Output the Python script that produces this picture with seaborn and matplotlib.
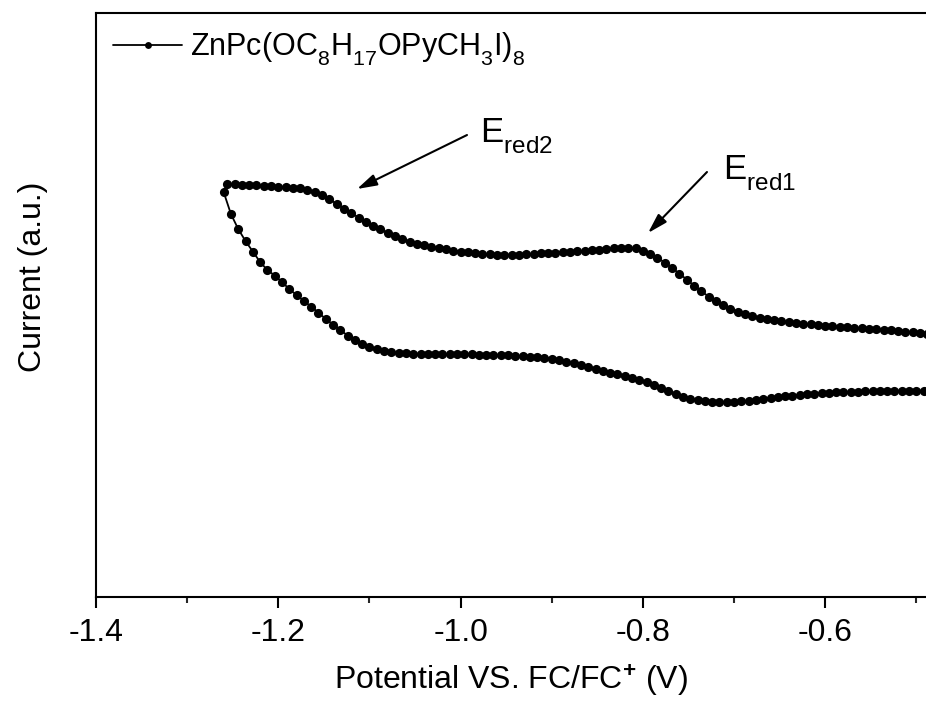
import matplotlib
matplotlib.use("Agg")
import matplotlib.pyplot as plt
from matplotlib import _mathtext
from matplotlib.ticker import MultipleLocator
import pandas as pd
import seaborn as sns

# Cathodic branch (lower trace), potentials in V vs Fc/Fc+
lower_potential = [
    -1.260, -1.252, -1.244, -1.236, -1.228, -1.220, -1.212, -1.204, -1.196, -1.188,
    -1.180, -1.172, -1.164, -1.156, -1.148, -1.140, -1.132, -1.124, -1.116, -1.108,
    -1.100, -1.092, -1.084, -1.076, -1.068, -1.060, -1.052, -1.044, -1.036, -1.028,
    -1.020, -1.012, -1.004, -0.996, -0.988, -0.980, -0.972, -0.964, -0.956, -0.948,
    -0.940, -0.932, -0.924, -0.916, -0.908, -0.900, -0.892, -0.884, -0.876, -0.868,
    -0.860, -0.852, -0.844, -0.836, -0.828, -0.820, -0.812, -0.804, -0.796, -0.788,
    -0.780, -0.772, -0.764, -0.756, -0.748, -0.740, -0.732, -0.724, -0.716, -0.708,
    -0.700, -0.692, -0.684, -0.676, -0.668, -0.660, -0.652, -0.644, -0.636, -0.628,
    -0.620, -0.612, -0.604, -0.596, -0.588, -0.580, -0.572, -0.564, -0.556, -0.548,
    -0.540, -0.532, -0.524, -0.516, -0.508, -0.500, -0.492, -0.484,
]
lower_current = [
    40.50, 38.30, 36.80, 35.60, 34.55, 33.50, 32.70, 32.15, 31.50, 30.80,
    30.20, 29.60, 29.05, 28.45, 27.80, 27.25, 26.70, 26.15, 25.70, 25.30,
    25.00, 24.77, 24.60, 24.48, 24.40, 24.36, 24.34, 24.32, 24.31, 24.30,
    24.30, 24.30, 24.29, 24.28, 24.27, 24.25, 24.23, 24.21, 24.19, 24.16,
    24.12, 24.08, 24.04, 24.00, 23.93, 23.83, 23.70, 23.54, 23.37, 23.18,
    22.98, 22.78, 22.60, 22.44, 22.28, 22.12, 21.95, 21.75, 21.50, 21.20,
    20.90, 20.60, 20.30, 20.05, 19.85, 19.70, 19.60, 19.53, 19.50, 19.50,
    19.53, 19.58, 19.65, 19.74, 19.83, 19.92, 20.00, 20.08, 20.15, 20.22,
    20.28, 20.34, 20.39, 20.43, 20.47, 20.50, 20.53, 20.55, 20.57, 20.59,
    20.60, 20.61, 20.62, 20.63, 20.63, 20.64, 20.64, 20.65,
]

# Return branch (upper trace)
upper_potential = [
    -1.256, -1.248, -1.240, -1.232, -1.224, -1.216, -1.208, -1.200, -1.192, -1.184,
    -1.176, -1.168, -1.160, -1.152, -1.144, -1.136, -1.128, -1.120, -1.112, -1.104,
    -1.096, -1.088, -1.080, -1.072, -1.064, -1.056, -1.048, -1.040, -1.032, -1.024,
    -1.016, -1.008, -1.000, -0.992, -0.984, -0.976, -0.968, -0.960, -0.952, -0.944,
    -0.936, -0.928, -0.920, -0.912, -0.904, -0.896, -0.888, -0.880, -0.872, -0.864,
    -0.856, -0.848, -0.840, -0.832, -0.824, -0.816, -0.808, -0.800, -0.792, -0.784,
    -0.776, -0.768, -0.760, -0.752, -0.744, -0.736, -0.728, -0.720, -0.712, -0.704,
    -0.696, -0.688, -0.680, -0.672, -0.664, -0.656, -0.648, -0.640, -0.632, -0.624,
    -0.616, -0.608, -0.600, -0.592, -0.584, -0.576, -0.568, -0.560, -0.552, -0.544,
    -0.536, -0.528, -0.520, -0.512, -0.504, -0.496, -0.488,
]
upper_current = [
    41.30, 41.27, 41.24, 41.20, 41.16, 41.11, 41.06, 41.01, 40.97, 40.93,
    40.87, 40.70, 40.47, 40.20, 39.80, 39.30, 38.85, 38.40, 37.95, 37.55,
    37.15, 36.80, 36.40, 36.10, 35.80, 35.55, 35.35, 35.17, 35.02, 34.90,
    34.77, 34.65, 34.55, 34.47, 34.40, 34.34, 34.29, 34.25, 34.23, 34.23,
    34.25, 34.28, 34.32, 34.36, 34.40, 34.44, 34.48, 34.52, 34.57, 34.62,
    34.68, 34.75, 34.81, 34.86, 34.90, 34.92, 34.87, 34.65, 34.32, 33.92,
    33.45, 32.90, 32.35, 31.75, 31.15, 30.60, 30.05, 29.60, 29.20, 28.85,
    28.55, 28.30, 28.10, 27.94, 27.81, 27.70, 27.60, 27.50, 27.42, 27.34,
    27.27, 27.20, 27.14, 27.08, 27.03, 26.98, 26.94, 26.90, 26.85, 26.80,
    26.75, 26.69, 26.62, 26.55, 26.48, 26.40, 26.32,
]

x_ticks = [-1.4, -1.2, -1.0, -0.8, -0.6]
x_tick_labels = ["-1.4", "-1.2", "-1.0", "-0.8", "-0.6"]
series_label = r"ZnPc(OC$_8$H$_{17}$OPyCH$_3$I)$_8$"

sns.set_theme(style="ticks")
plt.rcParams["font.family"] = ["Liberation Sans", "DejaVu Sans"]
plt.rcParams["mathtext.fontset"] = "custom"
plt.rcParams["mathtext.rm"] = "Liberation Sans"
plt.rcParams["mathtext.it"] = "Liberation Sans:italic"
plt.rcParams["mathtext.bf"] = "Liberation Sans:bold"
# Chemical-formula style subscripts sit a little lower than the mathtext default
_mathtext.FontConstantsBase.sub1 = 0.6
_mathtext.FontConstantsBase.sub2 = 0.7

# One continuous sweep: cathodic branch right-to-left, then back along the upper branch
sweep = pd.DataFrame({
    "potential": lower_potential[::-1] + upper_potential,
    "current": lower_current[::-1] + upper_current,
    "series": series_label,
})

fig = plt.figure(figsize=(9.26, 7.04), dpi=100)
fig.patch.set_facecolor("white")
ax = fig.add_axes([0.1037, 0.152, 0.8963, 0.8295])
ax.set_facecolor("white")

sns.lineplot(
    data=sweep, x="potential", y="current", hue="series",
    palette=["#000000"], sort=False, estimator=None,
    marker="o", markersize=6.6, markeredgewidth=0,
    linewidth=1.3, ax=ax,
)

ax.set_xlim(-1.4, -0.4894)
ax.set_ylim(0, 58.4)
ax.set_xticks(x_ticks)
ax.set_xticklabels(x_tick_labels)
ax.xaxis.set_minor_locator(MultipleLocator(0.1))
ax.set_yticks([])
ax.tick_params(axis="x", which="major", direction="out", length=8, width=1.5,
               labelsize=23, pad=7, colors="black")
ax.tick_params(axis="x", which="minor", direction="out", length=4.5, width=1.5)

for side in ["left", "bottom", "top"]:
    ax.spines[side].set_linewidth(1.5)
    ax.spines[side].set_color("black")
ax.spines["right"].set_visible(False)

ax.set_xlabel(r"Potential VS. FC/FC$^{\mathbf{+}}$ (V)", fontsize=23, labelpad=11, color="black")
ax.set_ylabel("Current (a.u.)", fontsize=23, color="black")
ax.yaxis.set_label_coords(-0.058, 0.548)

leg = ax.legend(loc="upper left", frameon=False, fontsize=22, handlelength=2.25,
                handletextpad=0.25, borderaxespad=0.17, markerscale=0.75)
for t in leg.get_texts():
    t.set_color("black")

# Reduction peak markers
arrow_style = "-|>,head_length=0.75,head_width=0.22"
ax.text(-0.9787, 45.4, r"E$_{\mathrm{red2}}$", fontsize=25, ha="left", va="baseline", color="black")
ax.annotate("", xy=(-1.1137, 40.8), xytext=(-0.9930, 46.2),
            arrowprops=dict(arrowstyle=arrow_style, color="black", lw=1.5,
                            mutation_scale=16, shrinkA=0, shrinkB=0))
ax.text(-0.7121, 41.7, r"E$_{\mathrm{red1}}$", fontsize=25, ha="left", va="baseline", color="black")
ax.annotate("", xy=(-0.7944, 36.4), xytext=(-0.7297, 42.5),
            arrowprops=dict(arrowstyle=arrow_style, color="black", lw=1.5,
                            mutation_scale=16, shrinkA=0, shrinkB=0))

fig.savefig("out.png", dpi=100, facecolor="white")
